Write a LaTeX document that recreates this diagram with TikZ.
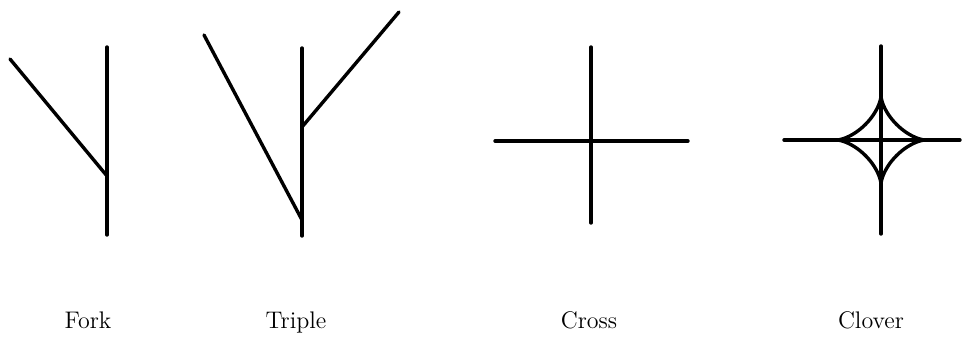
\documentclass[tikz,border=0pt]{standalone}
\usetikzlibrary{positioning}

\begin{document}
\begin{tikzpicture}[
    x=0.5pt, y=-0.5pt,
    branch/.style={line width=1.7pt, line cap=round},
    caption/.style={font=\large, anchor=base}
]

\useasboundingbox (0,0) rectangle (966,341);

% Fork
\coordinate (forkTop) at (107,47);
\coordinate (forkBot) at (107,235);
\coordinate (forkJoin) at (107,176);
\coordinate (forkLeft) at (10,59);
\draw[branch] (forkTop) -- (forkBot);
\draw[branch] (forkLeft) -- (forkJoin);
\node[caption] (forkLabel) at (88,329) {Fork};

% Triple
\coordinate (tripTop) at (302,48);
\coordinate (tripBot) at (302,236);
\coordinate (tripLow) at (302,220);
\coordinate (tripHigh) at (302,127);
\coordinate (tripLeft) at (204,35);
\coordinate (tripRight) at (399,12);
\draw[branch] (tripTop) -- (tripBot);
\draw[branch] (tripLeft) -- (tripLow);
\draw[branch] (tripHigh) -- (tripRight);
\node[caption] (tripleLabel) at (296,329) {Triple};

% Cross
\coordinate (crossN) at (591,47);
\coordinate (crossS) at (591,223);
\coordinate (crossW) at (495,141);
\coordinate (crossE) at (688,141);
\draw[branch] (crossN) -- (crossS);
\draw[branch] (crossW) -- (crossE);
\node[caption] (crossLabel) at (589,329) {Cross};

% Clover
\coordinate (clovN) at (881,46);
\coordinate (clovS) at (881,234);
\coordinate (clovW) at (784,140);
\coordinate (clovE) at (960,140);
\draw[branch] (clovN) -- (clovS);
\draw[branch] (clovW) -- (clovE);
\draw[branch, line join=miter] plot[domain=0:360, samples=121, smooth]
    ({881+44*cos(\x)*cos(\x)*cos(\x)}, {140+44*sin(\x)*sin(\x)*sin(\x)});
\node[caption] (cloverLabel) at (871,329) {Clover};

\end{tikzpicture}
\end{document}
